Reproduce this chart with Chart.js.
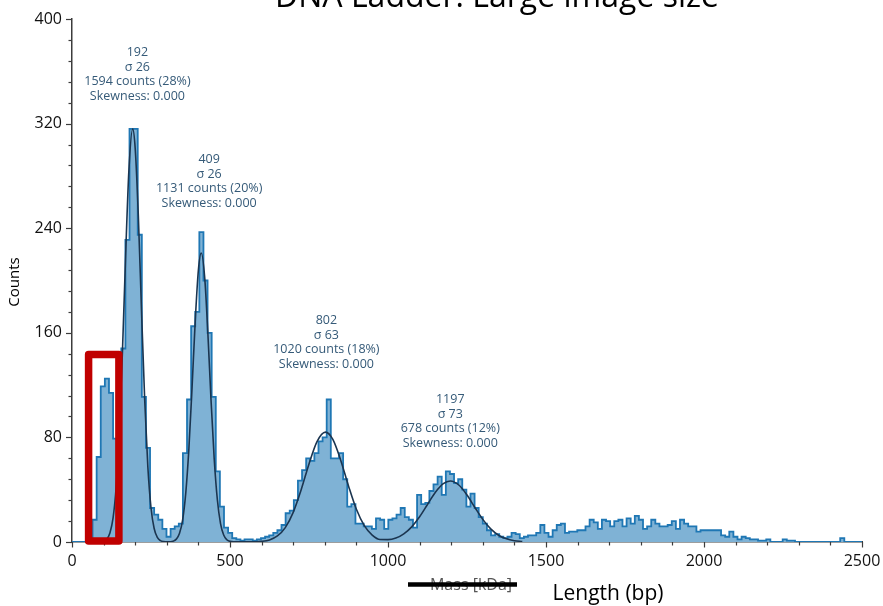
<!DOCTYPE html>
<html>
<head>
<meta charset="utf-8">
<script src="https://cdn.jsdelivr.net/npm/chart.js@4.4.1/dist/chart.umd.min.js"></script>
<style>
html,body{margin:0;padding:0;background:#ffffff;}
#wrap{position:relative;width:883px;height:606px;}
</style>
</head>
<body>
<div id="wrap"><canvas id="c" width="883" height="606"></canvas></div>
<script>
// ---------- DATA ----------
const titleText = "DNA Ladder: Large image size";
const xAxisLabel = "Length (bp)";
const struckLabel = "Mass [kDa]";
const yAxisLabel = "Counts";

const binWidth = 13; // bp per histogram bin
const counts = [
  0, 0, 0, 0, 0, 17, 65, 119, 125, 114, 79, 100, 148, 231, 316, 316, 235, 111, 72, 26,
  21, 17, 10, 4, 10, 12, 14, 68, 109, 165, 176, 237, 200, 160, 111, 54, 27, 11, 7, 3,
  2, 1, 2, 2, 1, 2, 3, 4, 5, 7, 9, 13, 22, 24, 32, 47, 55, 64, 62, 68,
  77, 80, 109, 64, 64, 68, 48, 27, 29, 14, 14, 12, 12, 10, 18, 17, 10, 17, 18, 21,
  26, 19, 17, 11, 36, 29, 30, 39, 44, 50, 36, 54, 52, 45, 48, 40, 27, 37, 26, 19,
  14, 9, 5, 6, 4, 3, 4, 7, 6, 3, 4, 5, 5, 7, 13, 7, 4, 9, 13, 14,
  7, 8, 8, 9, 9, 12, 17, 15, 10, 17, 16, 12, 16, 17, 12, 18, 14, 20, 17, 10,
  12, 17, 14, 12, 12, 13, 16, 10, 17, 14, 12, 12, 8, 9, 9, 9, 9, 9, 5, 4,
  8, 4, 2, 4, 3, 2, 2, 1, 1, 2, 0, 0, 0, 2, 1, 1, 0, 0, 0, 0,
  0, 0, 0, 0, 0, 0, 0, 3, 0, 0, 0, 0
];

// fitted curve (bp, counts)
const fitX = [100,110,120,130,140,150,160,170,180,192,200,210,220,230,240,250,260,270,280,290,
  300,310,320,330,340,350,360,370,380,390,400,409,420,430,440,450,460,470,480,490,
  500,525,550,575,600,625,650,675,700,725,750,775,802,825,850,875,900,925,950,975,
  1000,1025,1050,1075,1100,1125,1150,1175,1197,1225,1250,1275,1300,1325,1350,1375,1400,1425];
const fitY = [0.6,2.2,6.9,18.4,42.8,85.7,148,221,284,316,301,249,177,109,57.5,26.2,10.3,3.5,1.0,0.3,
  0.1,0.2,0.6,2.2,6.5,16.8,37.4,71.8,118.6,169,208,221,202,159.5,108.5,63.7,32.3,14.1,5.3,1.7,
  0.5,0.1,0.1,0.2,0.5,1.6,4.6,11,22.7,39.8,59.7,76.6,84,78.6,62.8,42.9,25,12.5,5.3,1.9,
  1.8,3,6.2,11.6,19.3,28.7,38,44.6,46.7,43.4,35.9,26.4,17.3,10,5.2,2.4,1.0,0.4];

// peak annotations
const peakMeans = [192, 409, 802, 1197];
const peakSigmas = [26, 26, 63, 73];
const peakCounts = [1594, 1131, 1020, 678];
const peakPercents = [28, 20, 18, 12];
const peakSkew = [0, 0, 0, 0];
const labelX = [207, 434, 805, 1197];   // bp, label centre
const labelY = [341, 259, 136, 75.5];   // counts, centre of last label line

// highlighted region (data units)
const boxX = [52.5, 148.4];
const boxY = [0.8, 143.4];

const xMin = 0, xMax = 2500, xStep = 100, xLabelEvery = 500;
const yMin = 0, yMax = 400, yStep = 16, yLabelEvery = 80;

// ---------- CHART ----------
const F = "'Open Sans', 'DejaVu Sans', sans-serif";

const histPoints = counts.map((c, i) => ({x: i * binWidth, y: c}));
histPoints.push({x: counts.length * binWidth, y: 0});
histPoints.push({x: xMax, y: 0});
const fitPoints = fitX.map((x, i) => ({x: x, y: fitY[i]}));

const deco = {
  id: 'deco',
  beforeDatasetsDraw(chart) {
    const ctx = chart.ctx, xs = chart.scales.x, ys = chart.scales.y;
    const ca = chart.chartArea;
    ctx.save();
    ctx.strokeStyle = '#3c3c3c';
    ctx.lineWidth = 1.2;
    ys.ticks.forEach(t => {
      const p = Math.round(ys.getPixelForValue(t.value)) + 0.5;
      const len = (t.value % yLabelEvery === 0) ? 6 : 3.5;
      ctx.beginPath(); ctx.moveTo(ca.left - len, p); ctx.lineTo(ca.left, p); ctx.stroke();
    });
    xs.ticks.forEach(t => {
      const p = Math.round(xs.getPixelForValue(t.value)) + 0.5;
      const len = (t.value % xLabelEvery === 0) ? 5.5 : 3.5;
      ctx.beginPath(); ctx.moveTo(p, ca.bottom); ctx.lineTo(p, ca.bottom + len); ctx.stroke();
    });
    ctx.restore();
  },
  afterDraw(chart) {
    const ctx = chart.ctx, xs = chart.scales.x, ys = chart.scales.y;
    ctx.save();
    // title (cut at top)
    ctx.fillStyle = '#000';
    ctx.font = `32px ${F}`;
    ctx.textAlign = 'center';
    ctx.textBaseline = 'alphabetic';
    ctx.fillText(titleText, 497, 7);

    // peak labels
    ctx.font = `12.5px ${F}`;
    ctx.fillStyle = '#355a78';
    ctx.textBaseline = 'middle';
    for (let i = 0; i < peakMeans.length; i++) {
      const lines = [String(peakMeans[i]), 'σ ' + peakSigmas[i],
        peakCounts[i] + ' counts (' + peakPercents[i] + '%)',
        'Skewness: ' + peakSkew[i].toFixed(3)];
      const px = xs.getPixelForValue(labelX[i]);
      const by = ys.getPixelForValue(labelY[i]);
      lines.forEach((s, j) => ctx.fillText(s, px, by - (lines.length - 1 - j) * 14.6));
    }

    // red highlight box
    const x0 = xs.getPixelForValue(boxX[0]), x1 = xs.getPixelForValue(boxX[1]);
    const y0 = ys.getPixelForValue(boxY[1]), y1 = ys.getPixelForValue(boxY[0]);
    ctx.strokeStyle = '#c00000';
    ctx.lineWidth = 7.5;
    ctx.lineJoin = 'round';
    ctx.strokeRect(x0, y0, x1 - x0, y1 - y0);

    // y axis title
    ctx.fillStyle = '#000';
    ctx.font = `15px ${F}`;
    ctx.save();
    ctx.translate(15, 282);
    ctx.rotate(-Math.PI / 2);
    ctx.textAlign = 'center';
    ctx.textBaseline = 'middle';
    ctx.fillText(yAxisLabel, 0, 0);
    ctx.restore();

    // struck-through old axis label
    ctx.fillStyle = '#555';
    ctx.font = `16px ${F}`;
    ctx.textAlign = 'center';
    ctx.textBaseline = 'middle';
    ctx.fillText(struckLabel, 471, 585);
    ctx.strokeStyle = '#000';
    ctx.lineWidth = 4.5;
    ctx.lineCap = 'butt';
    ctx.beginPath(); ctx.moveTo(408, 584.5); ctx.lineTo(517, 584.5); ctx.stroke();

    // x axis title
    ctx.fillStyle = '#000';
    ctx.font = `21px ${F}`;
    ctx.fillText(xAxisLabel, 608, 594);
    ctx.restore();
  }
};

new Chart(document.getElementById('c'), {
  type: 'line',
  data: {
    datasets: [
      {label: 'Fit', data: fitPoints, borderColor: '#1b3550', borderWidth: 1.6,
        pointRadius: 0, fill: false, cubicInterpolationMode: 'monotone', order: 0},
      {label: 'Histogram', data: histPoints, stepped: true, borderColor: 'rgb(31,119,180)',
        borderWidth: 1.8, backgroundColor: 'rgb(127,178,213)', fill: 'origin', pointRadius: 0, order: 1}
    ]
  },
  options: {
    responsive: false,
    animation: false,
    devicePixelRatio: 1,
    layout: {padding: {left: 0, right: 21, top: 19, bottom: 0}},
    plugins: {legend: {display: false}, tooltip: {enabled: false}, title: {display: false}},
    scales: {
      x: {
        type: 'linear', min: xMin, max: xMax,
        afterFit(s) { s.height = 64; s.paddingLeft = 0; s.paddingRight = 0; },
        grid: {display: false, drawTicks: false},
        border: {display: true, color: '#3c3c3c', width: 1.5},
        ticks: {stepSize: xStep, autoSkip: false, maxRotation: 0, minRotation: 0, padding: 10,
          color: '#111', font: {family: F, size: 16},
          callback: v => (v % xLabelEvery === 0 ? String(v) : '')}
      },
      y: {
        type: 'linear', min: yMin, max: yMax,
        afterFit(s) { s.width = 72; s.paddingTop = 0; s.paddingBottom = 0; },
        grid: {display: false, drawTicks: false},
        border: {display: true, color: '#3c3c3c', width: 1.5},
        ticks: {stepSize: yStep, autoSkip: false, padding: 10,
          color: '#111', font: {family: F, size: 16},
          callback: v => (v % yLabelEvery === 0 ? String(v) : '')}
      }
    }
  },
  plugins: [deco]
});
</script>
</body>
</html>
